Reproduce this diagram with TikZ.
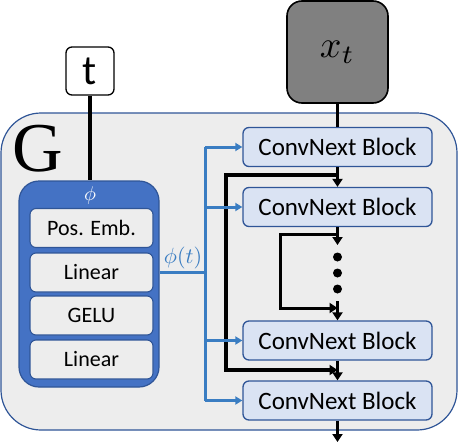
\documentclass[tikz,border=0pt]{standalone}
\usepackage{graphicx}
\usepackage{fontspec}
\setmainfont{Carlito}
\newfontfamily\serifG{Liberation Serif}
\usetikzlibrary{arrows.meta}
\definecolor{gbg}{HTML}{EDEDED}
\definecolor{gborder}{HTML}{2F5597}
\definecolor{phiblue}{HTML}{4472C4}
\definecolor{convfill}{HTML}{DAE3F3}
\definecolor{arrblue}{HTML}{3A7DC2}
\definecolor{xgray}{HTML}{808080}
\tikzset{
  convbox/.style={draw=gborder, line width=1.3pt, fill=convfill, rounded corners=6pt,
    minimum width=189pt, minimum height=39pt, inner sep=0pt, font=\fontsize{25}{30}\selectfont},
  phiinner/.style={draw=gborder, line width=1.1pt, fill=gbg, rounded corners=6pt,
    minimum width=123pt, minimum height=39pt, inner sep=0pt, font=\fontsize{22}{26}\selectfont},
  blk/.style={line width=3.5pt, black},
  blkarrow/.style={blk, -{Triangle[length=8pt,width=10pt]}},
  bluel/.style={line width=3pt, arrblue},
  bluearrow/.style={bluel, -{Triangle[length=7pt,width=8pt]}},
  dotnode/.style={circle, fill=black, minimum size=9pt, inner sep=0pt},
}
\begin{document}
\begin{tikzpicture}[x=1pt,y=-1pt]
\useasboundingbox (0,0) rectangle (458,442);
% outer G box
\draw[draw=gborder, line width=1.2pt, fill=gbg, rounded corners=40pt] (1,113) rectangle (457,430);
\node[font=\serifG\fontsize{70}{70}\selectfont, inner sep=0pt] (G) at (38,149) {G};
% inputs
\node[draw=black, line width=1.3pt, fill=white, rounded corners=6pt, minimum width=48pt, minimum height=48pt, inner sep=0pt, font=\fontsize{42}{44}\selectfont] (t) at (90,71) {t};
\node[draw=black, line width=1.6pt, fill=xgray, rounded corners=15pt, minimum width=101pt, minimum height=102pt, inner sep=0pt] (xt) at (337.5,52) {\scalebox{3.8}{$x_t$}};
% phi box
\node[draw=gborder, line width=1.2pt, fill=phiblue, rounded corners=20pt, minimum width=140pt, minimum height=206pt, inner sep=0pt] (phi) at (89,284) {};
\node[text=white, inner sep=0pt] (philab) at (90,195) {\scalebox{2}{$\phi$}};
\node[phiinner] (pe) at (91.5,228) {Pos. Emb.};
\node[phiinner] (lin1) at (91.5,272.5) {Linear};
\node[phiinner] (gelu) at (91.5,315.5) {GELU};
\node[phiinner] (lin2) at (91.5,359.5) {Linear};
% conv blocks
\node[convbox] (c1) at (337.5,147) {ConvNext Block};
\node[convbox] (c2) at (337.5,207) {ConvNext Block};
\node[convbox] (c3) at (337.5,340.5) {ConvNext Block};
\node[convbox] (c4) at (337.5,400.5) {ConvNext Block};
% dots
\node[dotnode] (d1) at (337.5,257) {};
\node[dotnode] (d2) at (337.5,273) {};
\node[dotnode] (d3) at (337.5,289) {};
% coordinates
\coordinate (dtop) at (337.5,245);
\coordinate (dbot) at (337.5,301);
\coordinate (s1) at (337.5,234);
\coordinate (s2) at (337.5,308);
\coordinate (b1) at (337.5,175);
\coordinate (b2) at (337.5,370);
\coordinate (out) at (337.5,442);
\coordinate (bj) at (205,272);
% input lines
\draw[blk] (t.south) -- (t.south |- phi.north);
\draw[blk] (xt.south) -- (c1.north);
% main chain
\draw[blkarrow] (c1.south) -- (c2.north);
\draw[blkarrow] (c2.south) -- (dtop);
\draw[blkarrow] (dbot) -- (c3.north);
\draw[blkarrow] (c3.south) -- (c4.north);
\draw[blkarrow] (c4.south) -- (out);
% skip connections
\draw[blkarrow, line width=3pt] (s1) -- ++(-57.5,0) |- (s2);
\draw[blkarrow] (b1) -- ++(-111.5,0) |- (b2);
% blue conditioning
\draw[bluel] (phi.east |- bj) -- (bj);
\node[text=arrblue, inner sep=0pt, anchor=south] (philabel) at (183,269) {\scalebox{2.2}{$\phi(t)$}};
\draw[bluel] (bj |- c1) -- (bj |- c4);
\draw[bluearrow] (bj |- c1) -- (c1.west);
\draw[bluearrow] (bj |- c2) -- (c2.west);
\draw[bluearrow] (bj |- c3) -- (c3.west);
\draw[bluearrow] (bj |- c4) -- (c4.west);
\end{tikzpicture}
\end{document}
